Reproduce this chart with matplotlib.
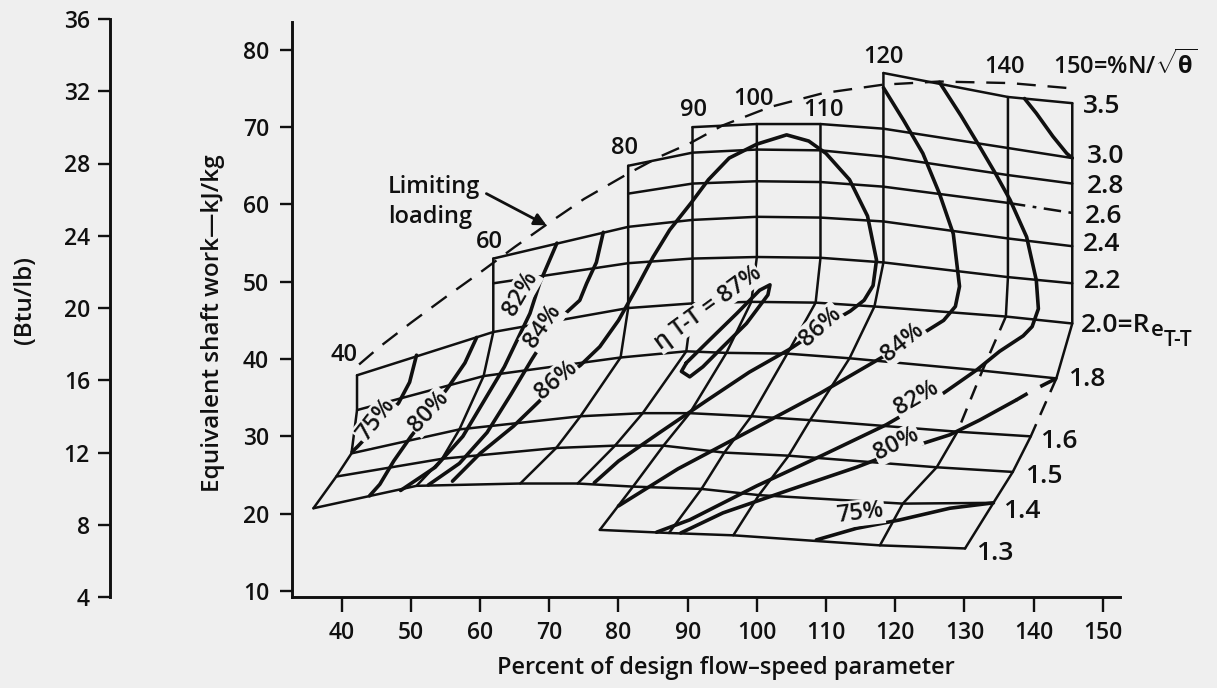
import matplotlib
matplotlib.use("Agg")
import matplotlib.pyplot as plt
import numpy as np

FONT = ['Open Sans', 'DejaVu Sans']
plt.rcParams['font.family'] = FONT
plt.rcParams['font.weight'] = 'semibold'
plt.rcParams['mathtext.fontset'] = 'custom'
plt.rcParams['mathtext.rm'] = 'Open Sans:semibold'
plt.rcParams['mathtext.it'] = 'Open Sans:italic'
plt.rcParams['mathtext.bf'] = 'Open Sans:bold'

N = None
# Equivalent total-to-total pressure ratios, from the top of the map downwards
PRESSURE_RATIOS = [3.5, 3.0, 2.8, 2.6, 2.4, 2.2, 2.0, 1.8, 1.6, 1.5, 1.4, 1.3]
# Percent of design equivalent speed, %N/sqrt(theta)
SPEEDS = [40, 60, 80, 90, 100, 110, 120, 140, 150]

# Flow-speed parameter (%) and shaft work (kJ/kg) along each speed line,
# one entry per pressure ratio (None where the speed line does not reach it)
FLOW_40 = [N, N, N, N, N, N, 42.2, 42.2, 41.4, 39.2, 35.9, N]
WORK_40 = [N, N, N, N, N, N, 37.9, 33.4, 27.8, 24.8, 20.7, N]
FLOW_60 = [N, N, N, N, 61.9, 61.9, 61.9, 60.5, 57.0, 54.5, 50.8, N]
WORK_60 = [N, N, N, N, 53.0, 49.8, 43.5, 37.8, 30.9, 27.1, 23.6, N]
FLOW_80 = [N, N, 81.4, 81.4, 81.4, 81.4, 81.4, 80.3, 74.5, 71.0, 65.8, N]
WORK_80 = [N, N, 65.0, 61.4, 57.1, 52.4, 46.6, 40.2, 32.6, 28.5, 23.9, N]
FLOW_90 = [N, 90.7, 90.7, 90.7, 90.7, 90.7, 90.7, 89.8, 83.5, 79.5, 74.1, N]
WORK_90 = [N, 70.0, 66.7, 62.7, 58.0, 53.0, 47.2, 41.0, 33.0, 28.8, 23.9, N]
FLOW_100 = [N, 100.0, 100.0, 100.0, 100.0, 100.0, 99.2, 95.6, 90.3, 86.5, 82.1, 77.3]
WORK_100 = [N, 70.4, 67.1, 63.0, 58.4, 53.2, 47.4, 40.8, 33.0, 28.8, 23.5, 17.9]
FLOW_110 = [N, 109.2, 109.2, 109.2, 109.2, 109.2, 108.5, 104.4, 99.2, 95.3, 92.0, 87.3]
WORK_110 = [N, 70.4, 67.0, 62.9, 58.3, 53.1, 47.3, 40.7, 32.6, 27.9, 23.2, 17.5]
FLOW_120 = [118.3, 118.3, 118.3, 118.3, 118.3, 118.3, 117.0, 113.4, 107.7, 104.6, 100.3, 96.6]
WORK_120 = [77.0, 69.8, 66.2, 62.3, 57.8, 52.5, 46.8, 40.1, 32.1, 27.5, 22.4, 17.2]
FLOW_140 = [136.3, 136.3, 136.3, 136.3, 136.3, 136.3, 136.0, 132.6, 129.0, 126.0, 121.1, 117.8]
WORK_140 = [73.9, 67.3, 63.8, 60.2, 55.6, 50.6, 45.5, 38.5, 30.6, 26.0, 21.3, 15.9]
FLOW_150 = [145.6, 145.6, 145.6, 145.6, 145.6, 145.6, 145.6, 143.3, 139.6, 137.0, 134.2, 130.1]
WORK_150 = [73.1, 66.0, 62.7, 58.9, 54.6, 49.8, 44.6, 37.5, 30.0, 25.4, 21.4, 15.5]

FLOW = [FLOW_40, FLOW_60, FLOW_80, FLOW_90, FLOW_100, FLOW_110, FLOW_120, FLOW_140, FLOW_150]
WORK = [WORK_40, WORK_60, WORK_80, WORK_90, WORK_100, WORK_110, WORK_120, WORK_140, WORK_150]

# Limiting-loading line (dashed)
LIMIT_FLOW = [42.5, 45.5, 50.0, 55.0, 60.0, 65.0, 69.6, 75.0, 81.4, 86.0, 90.3, 95.0, 101.9,
              109.6, 118.3, 126.4, 136.6, 145.7]
LIMIT_WORK = [39.3, 41.6, 44.7, 48.0, 51.2, 54.5, 57.4, 60.7, 64.0, 66.2, 67.9, 70.2, 72.6,
              74.4, 75.5, 75.9, 75.7, 75.0]

# Efficiency contours (flow-speed parameter, work)
ETA87_FLOW = [89.8, 93.2, 97.1, 100.4, 101.9, 101.6, 98.5, 95.1, 92.2, 90.3, 89.1, 89.8]
ETA87_WORK = [39.5, 42.5, 45.9, 48.9, 49.6, 48.3, 44.6, 41.6, 39.0, 37.7, 38.4, 39.5]
ETA86_FLOW = [56.0, 60.0, 64.8, 68.5, 71.5, 74.5, 77.3, 80.0, 82.5, 85.0, 87.4, 90.5, 93.0, 96.0,
              100.0, 104.3, 107.5, 110.0, 113.4, 116.0, 117.3, 116.8, 115.5, 113.5, 111.0, 108.0,
              104.6, 98.9, 92.7, 85.8, 80.0, 76.5]
ETA86_WORK = [24.2, 27.8, 31.3, 34.5, 37.2, 39.2, 41.6, 45.0, 49.0, 53.2, 56.7, 60.2, 63.2, 66.0,
              67.8, 69.0, 68.2, 66.6, 63.2, 58.5, 52.8, 49.5, 47.6, 46.2, 44.9, 43.2,
              41.2, 38.3, 34.6, 30.4, 26.8, 24.0]
ETA84L_FLOW = [77.8, 76.8, 75.4, 74.4, 72.2, 70.0, 67.5, 64.5, 61.0, 57.0, 52.5]
ETA84L_WORK = [56.4, 52.5, 49.8, 47.6, 45.8, 43.5, 40.0, 35.5, 30.5, 26.5, 23.7]
ETA84R_FLOW = [118.3, 121.2, 124.0, 126.4, 128.4, 129.3, 128.7, 127.0, 124.5, 121.1, 116.9,
               109.2, 100.0, 88.6, 80.0]
ETA84R_WORK = [75.1, 70.9, 66.6, 61.4, 56.2, 49.4, 46.8, 45.0, 43.6, 41.8, 39.6,
               35.6, 31.2, 25.8, 21.0]
ETA82L_FLOW = [71.1, 68.6, 67.2, 65.8, 63.5, 60.5, 57.5, 53.5, 48.5]
ETA82L_WORK = [55.0, 49.8, 45.9, 43.3, 39.0, 34.5, 30.0, 26.0, 23.0]
ETA82R_FLOW = [126.4, 129.5, 132.2, 134.5, 136.6, 139.0, 140.4, 140.7, 139.8, 138.5, 135.1,
               131.8, 127.0, 123.1, 118.7, 109.6, 100.0, 90.3, 85.5]
ETA82R_WORK = [75.8, 71.5, 67.5, 64.0, 60.6, 55.8, 50.2, 46.5, 44.2, 43.0, 41.0,
               38.6, 35.6, 33.8, 31.5, 27.6, 23.6, 19.2, 17.6]
ETA80L_FLOW = [59.5, 57.8, 55.5, 52.6, 50.0, 47.5, 45.5, 44.0]
ETA80L_WORK = [42.8, 39.5, 36.5, 33.0, 30.0, 26.8, 23.8, 22.3]
ETA80RT_FLOW = [138.7, 140.4, 142.8, 144.8, 145.6]
ETA80RT_WORK = [73.7, 71.8, 68.8, 66.6, 66.0]
ETA80RB_FLOW = [143.3, 140.0, 137.5, 132.2, 127.9, 120.2, 114.4, 104.8, 95.1, 89.0]
ETA80RB_WORK = [37.5, 36.0, 34.7, 32.1, 30.2, 28.0, 26.0, 23.1, 20.1, 17.5]
ETA75L_FLOW = [50.8, 49.8, 48.2, 46.0, 44.0, 42.3, 41.5]
ETA75L_WORK = [40.5, 37.0, 34.3, 32.3, 30.3, 28.7, 28.0]
ETA75R_FLOW = [108.6, 114.4, 120.7, 127.9, 134.2]
ETA75R_WORK = [16.6, 18.1, 19.2, 20.7, 21.4]

BG = '#efefef'
INK = '#101010'
FS = 17          # general text
FS_TICK = 16.5   # axis numbers
FS_PR = 19       # pressure-ratio labels
W, H = 1217, 688


def box(left, top, right, bottom):
    return [left / W, 1 - bottom / H, (right - left) / W, (bottom - top) / H]


fig = plt.figure(figsize=(W / 100, H / 100), dpi=100, facecolor=BG)
ax = fig.add_axes(box(292, 22, 1120, 597))
ax.set_facecolor('none')
ax.set_xlim(32.8, 152.5)
ax.set_ylim(9.22, 83.6)
for side in ('top', 'right'):
    ax.spines[side].set_visible(False)
for side in ('left', 'bottom'):
    ax.spines[side].set_linewidth(2.1)
    ax.spines[side].set_color(INK)
ax.set_xticks(np.arange(40, 151, 10))
ax.set_yticks(np.arange(10, 81, 10))
ax.tick_params(axis='x', direction='out', length=11, width=1.7, pad=6, labelsize=FS_TICK, colors=INK)
ax.tick_params(axis='y', direction='out', length=8.5, width=1.7, pad=8, labelsize=FS_TICK, colors=INK)

GLW = 1.8
grid_kw = dict(color=INK, lw=GLW, solid_capstyle='round', solid_joinstyle='round')
cont_kw = dict(color=INK, lw=2.6, solid_capstyle='round', solid_joinstyle='round')


def nodes_of_ratio(j):
    return [(FLOW[i][j], WORK[i][j]) for i in range(len(SPEEDS)) if FLOW[i][j] is not None]


def nodes_of_speed(i):
    return [(FLOW[i][j], WORK[i][j], PRESSURE_RATIOS[j])
            for j in range(len(PRESSURE_RATIOS)) if FLOW[i][j] is not None]


# constant pressure-ratio lines
for j, pr in enumerate(PRESSURE_RATIOS):
    pts = nodes_of_ratio(j)
    xs = [p[0] for p in pts]
    ys = [p[1] for p in pts]
    if pr == 2.6:
        # last segment (140 -> 150) is dash-dotted
        ax.plot(xs[:-1], ys[:-1], **grid_kw)
        ax.plot(xs[-2:], ys[-2:], color=INK, lw=GLW, dashes=(7, 3, 1.5, 3))
    else:
        ax.plot(xs, ys, **grid_kw)

# constant speed lines; a few extrapolated stretches are dashed
DASHED_STRETCH = {140: (2.0, 1.6), 150: (1.8, 1.6)}
for i, sp in enumerate(SPEEDS):
    pts = nodes_of_speed(i)
    if sp in DASHED_STRETCH:
        hi, lo = DASHED_STRETCH[sp]
        upper = [p for p in pts if p[2] >= hi]
        mid = [p for p in pts if lo <= p[2] <= hi]
        lower = [p for p in pts if p[2] <= lo]
        ax.plot([p[0] for p in upper], [p[1] for p in upper], **grid_kw)
        ax.plot([p[0] for p in mid], [p[1] for p in mid], color=INK, lw=GLW, dashes=(6, 4))
        ax.plot([p[0] for p in lower], [p[1] for p in lower], **grid_kw)
    else:
        ax.plot([p[0] for p in pts], [p[1] for p in pts], **grid_kw)

# limiting loading
ax.plot(LIMIT_FLOW, LIMIT_WORK, color=INK, lw=1.7, dashes=(8, 5))

# efficiency contours
for fx, wy in [(ETA87_FLOW, ETA87_WORK), (ETA86_FLOW, ETA86_WORK),
               (ETA84L_FLOW, ETA84L_WORK), (ETA84R_FLOW, ETA84R_WORK),
               (ETA82L_FLOW, ETA82L_WORK), (ETA82R_FLOW, ETA82R_WORK),
               (ETA80L_FLOW, ETA80L_WORK), (ETA80RT_FLOW, ETA80RT_WORK),
               (ETA75L_FLOW, ETA75L_WORK), (ETA75R_FLOW, ETA75R_WORK)]:
    ax.plot(fx, wy, **cont_kw)
ax.plot(ETA80RB_FLOW[:3], ETA80RB_WORK[:3], color=INK, lw=2.6, dashes=(5, 4))
ax.plot(ETA80RB_FLOW[2:], ETA80RB_WORK[2:], **cont_kw)

# contour labels, written along the curves
mask = dict(boxstyle='square,pad=0.05', fc=BG, ec='none')
lab_kw = dict(fontsize=FS, color=INK, ha='center', va='center', rotation_mode='anchor', bbox=mask)
ax.text(44.9, 32.1, '75%', rotation=52, **lab_kw)
ax.text(52.6, 33.2, '80%', rotation=47, **lab_kw)
ax.text(65.8, 48.5, '82%', rotation=60, **lab_kw)
ax.text(69.1, 44.2, '84%', rotation=55, **lab_kw)
ax.text(71.0, 37.3, '86%', rotation=40, **lab_kw)
ax.text(109.2, 44.2, '86%', rotation=42, **lab_kw)
ax.text(121.1, 42.2, '84%', rotation=39, **lab_kw)
ax.text(123.1, 35.0, '82%', rotation=30, **lab_kw)
ax.text(120.2, 29.0, '80%', rotation=27, **lab_kw)
ax.text(114.9, 20.1, '75%', rotation=7, **lab_kw)
ax.text(92.9, 46.6, '\u03b7 T-T = 87%', rotation=36, family=FONT, fontsize=FS, color=INK,
        ha='center', va='center', rotation_mode='anchor',
        bbox=dict(boxstyle='square,pad=0.0', fc=BG, ec='none'))

# speed labels
sp_kw = dict(fontsize=FS, color=INK, ha='center', va='center')
ax.text(40.3, 40.5, '40', **sp_kw)
ax.text(61.4, 55.2, '60', **sp_kw)
ax.text(80.9, 67.3, '80', **sp_kw)
ax.text(90.8, 72.2, '90', **sp_kw)
ax.text(99.5, 73.7, '100', **sp_kw)
ax.text(109.6, 72.2, '110', **sp_kw)
ax.text(118.3, 79.1, '120', **sp_kw)
ax.text(135.8, 77.8, '140', **sp_kw)
ax.text(142.8, 78.0, r'150=%N/$\mathbf{\sqrt{\theta}}$', fontsize=FS, color=INK,
        ha='left', va='center', clip_on=False)

# pressure-ratio labels
pr_kw = dict(fontsize=FS_PR, color=INK, ha='left', va='center', clip_on=False)
ax.text(147.2, 72.7, '3.5', **pr_kw)
ax.text(147.7, 66.2, '3.0', **pr_kw)
ax.text(147.7, 62.3, '2.8', **pr_kw)
ax.text(147.4, 58.4, '2.6', **pr_kw)
ax.text(147.2, 54.8, '2.4', **pr_kw)
ax.text(147.3, 50.0, '2.2', **pr_kw)
t20 = ax.text(146.9, 44.4, '2.0=R', **pr_kw)
ax.annotate('e', xy=(1, 0.5), xycoords=t20, xytext=(0, -4), textcoords='offset points',
            fontsize=FS - 1, color=INK, ha='left', va='center', annotation_clip=False)
ax.annotate('T-T', xy=(1, 0.5), xycoords=t20, xytext=(9, -11), textcoords='offset points',
            fontsize=FS - 2, color=INK, ha='left', va='center', annotation_clip=False)
ax.text(145.0, 37.3, '1.8', **pr_kw)
ax.text(140.9, 29.3, '1.6', **pr_kw)
ax.text(138.7, 24.8, '1.5', **pr_kw)
ax.text(135.6, 20.3, '1.4', **pr_kw)
ax.text(131.7, 14.9, '1.3', **pr_kw)

# limiting-loading callout
ax.text(46.7, 62.3, 'Limiting', fontsize=FS, color=INK, ha='left', va='center')
ax.text(46.7, 58.4, 'loading', fontsize=FS, color=INK, ha='left', va='center')
ax.annotate('', xy=(69.6, 57.3), xytext=(60.9, 61.4),
            arrowprops=dict(arrowstyle='-|>', color=INK, lw=2.0, mutation_scale=18,
                            shrinkA=0, shrinkB=0))

fig.text(726 / W, 1 - 668 / H, 'Percent of design flow\u2013speed parameter', fontsize=FS,
         color=INK, ha='center', va='center')
fig.text(213 / W, 1 - 323 / H, 'Equivalent shaft work\u2014kJ/kg', fontsize=17.5, color=INK,
         ha='center', va='center', rotation=90)

# English-unit work scale
ax2 = fig.add_axes(box(110, 19, 140, 597))
ax2.set_facecolor('none')
for side in ('top', 'right', 'bottom'):
    ax2.spines[side].set_visible(False)
ax2.spines['left'].set_linewidth(2.1)
ax2.spines['left'].set_color(INK)
ax2.set_ylim(4, 36)
ax2.set_xticks([])
ax2.set_yticks(np.arange(4, 37, 4))
ax2.tick_params(axis='y', direction='out', length=8.5, width=1.7, pad=6, labelsize=FS_TICK, colors=INK)
fig.text(25 / W, 1 - 300 / H, '(Btu/lb)', fontsize=17.5, color=INK, ha='center', va='center',
         rotation=90)

fig.savefig('out.png', dpi=100, facecolor=BG)
